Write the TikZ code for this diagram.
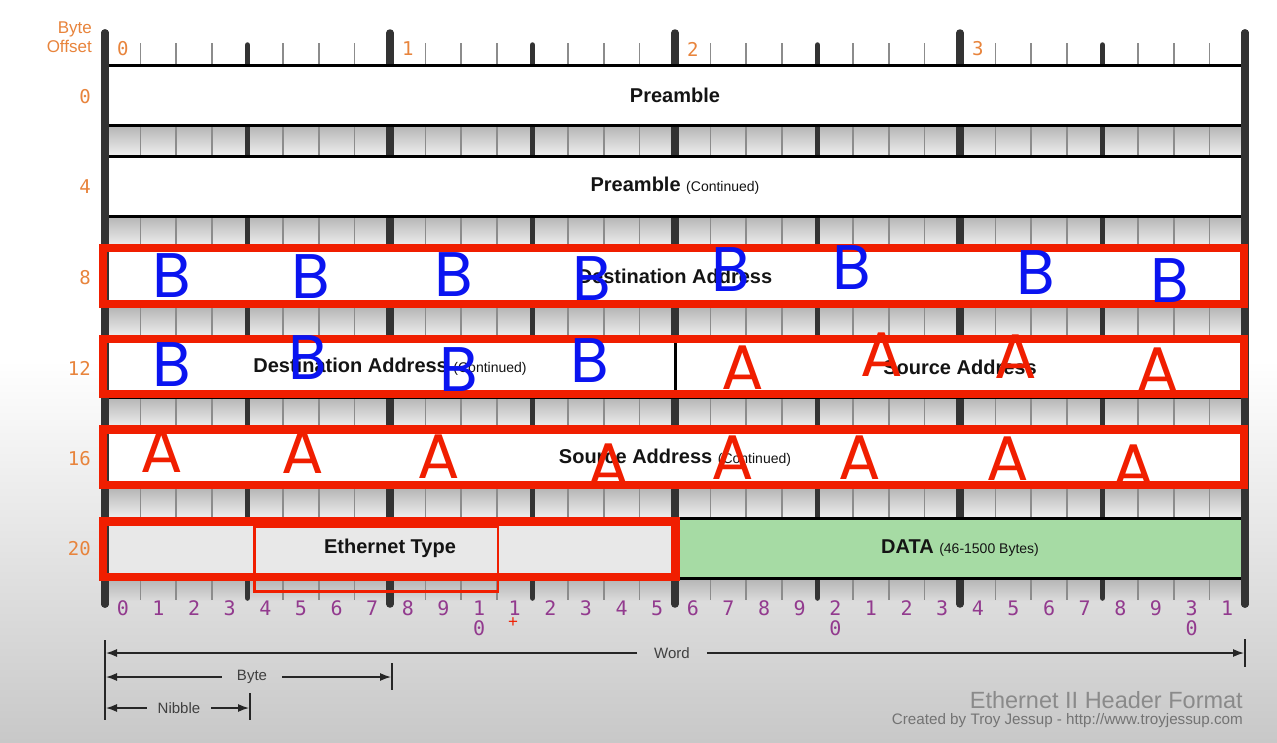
\documentclass[tikz,border=0pt]{standalone}
\usepackage{fontspec}
\setmainfont{Liberation Sans}
\newfontfamily\monof{DejaVu Sans Mono}
\newfontfamily\handf{Poppins}
\usetikzlibrary{arrows.meta}
\definecolor{orng}{HTML}{E8843C}
\definecolor{purp}{HTML}{923A8E}
\definecolor{dataG}{HTML}{A6DBA4}
\definecolor{lgray}{HTML}{E8E8E8}
\definecolor{annred}{HTML}{F01E00}
\definecolor{annblue}{HTML}{0A14F0}
\definecolor{barc}{HTML}{333333}
\definecolor{tickc}{HTML}{8C8C8C}
\definecolor{stripT}{HTML}{B4B4B4}
\definecolor{stripB}{HTML}{F0F0F0}
\definecolor{stripL}{HTML}{DADADA}
\definecolor{bgB}{HTML}{C8C8C8}
\definecolor{creditc}{HTML}{8A8A8A}
\tikzset{
  rowbox/.style={draw=black, line width=3pt, fill=white, inner sep=0pt, minimum height=60pt,
    font=\bfseries\fontsize{20}{24}\selectfont, text=black!92},
  bytebar/.style={line width=7.5pt, draw=barc, line cap=round},
  nibbar/.style={line width=5.5pt, draw=barc, line cap=round},
  bittick/.style={line width=1.6pt, draw=tickc},
  offlbl/.style={text=orng, font=\monof\fontsize{19}{22}\selectfont, inner sep=0pt},
  bitnum/.style={text=purp, font=\monof\fontsize{20}{22}\selectfont, inner sep=0pt},
  dimln/.style={line width=1.3pt, draw=black!85},
  dimarrow/.style={dimln, -{Latex[length=11pt,width=8pt]}},
  dimlbl/.style={font=\fontsize{15}{18}\selectfont, text=black!75, inner xsep=15pt, inner ysep=0pt},
  annbox/.style={draw=annred, line width=8.5pt},
  annthin/.style={draw=annred, line width=2.5pt},
  handB/.style={text=annblue, font=\handf\fontsize{63}{63}\selectfont, inner sep=0pt},
  handA/.style={text=annred, font=\handf\fontsize{63}{63}\selectfont, inner sep=0pt},
  credit/.style={text=creditc, inner sep=0pt, anchor=east},
}
\newcommand{\cont}[1]{{\mdseries\fontsize{14}{16}\selectfont #1}}
\begin{document}
\begin{tikzpicture}[x=1pt,y=-1pt]
\useasboundingbox (0,0) rectangle (1277,742);
% background
\fill[white] (0,0) rectangle (1277,742);
\shade[top color=white, bottom color=bgB] (0,360) rectangle (1277,742);
% shaded strips between rows
\foreach \k in {0,...,4}{
  \shade[top color=stripT, bottom color=stripB] (105,{125.5+90.5*\k}) rectangle (1245,{156+90.5*\k});
}
\shade[top color=stripT, bottom color=stripL] (105,578) rectangle (1245,600);
% bit ticks
\foreach \i in {1,...,31}{
  \draw[bittick] ({105+35.625*\i},43) -- ({105+35.625*\i},600);
}
% nibble bars
\foreach \i in {4,12,20,28}{
  \draw[nibbar] ({105+35.625*\i},45) -- ({105+35.625*\i},598);
}
% byte bars
\foreach \i in {0,8,16,24,32}{
  \draw[bytebar] ({105+35.625*\i},33) -- ({105+35.625*\i},604);
}
% rows
\node[rowbox, minimum width=1140pt] (r0) at (675,95.5) {Preamble};
\node[rowbox, minimum width=1140pt] (r4) at (675,186) {Preamble \cont{(Continued)}};
\node[rowbox, minimum width=1140pt] (r8) at (675,276.5) {Destination Address};
\node[rowbox, minimum width=570pt] (r12a) at (390,367) {Destination Address \cont{(Continued)}};
\node[rowbox, minimum width=570pt] (r12b) at (960,367) {Source Address};
\node[rowbox, minimum width=1140pt] (r16) at (675,457.5) {Source Address \cont{(Continued)}};
\node[rowbox, minimum width=570pt, fill=lgray] (r20a) at (390,548.5) {Ethernet Type};
\node[rowbox, minimum width=570pt, fill=dataG] (r20b) at (960,548.5) {DATA \cont{(46-1500 Bytes)}};
% outer bars over the boxes
\foreach \i in {0,32}{
  \draw[bytebar] ({105+35.625*\i},33) -- ({105+35.625*\i},604);
}
% top byte labels
\foreach \t [count=\j from 0] in {0,1,2,3}{
  \node[offlbl] (top\j) at ({122.8+285*\j},49) {\t};
}
% byte offset header
\node[text=orng, font=\fontsize{17}{19}\selectfont, align=right, anchor=east, inner sep=0pt] (hdr) at (92,37) {Byte\\Offset};
% row offset labels
\foreach \t [count=\j from 0] in {0,4,8,12,16,20}{
  \node[offlbl, anchor=east] (off\j) at (91,{96.5+90.5*\j}) {\t};
}
% bottom bit numbers
\foreach \d [count=\i from 0] in {0,1,2,3,4,5,6,7,8,9,1,1,2,3,4,5,6,7,8,9,2,1,2,3,4,5,6,7,8,9,3,1}{
  \node[bitnum] (b\i) at ({122.8+35.625*\i},608) {\d};
}
\node[bitnum] (b10z) at ({122.8+35.625*10},628) {0};
\node[bitnum] (b20z) at ({122.8+35.625*20},628) {0};
\node[bitnum] (b30z) at ({122.8+35.625*30},628) {0};
\node[text=annred, font=\fontsize{17}{17}\selectfont, inner sep=0pt] (cursor) at (513,623) {+};
% dimension lines
\draw[dimln] (105,640) -- (105,720);
\draw[dimln] (1245,639) -- (1245,667);
\draw[dimln] (392,663) -- (392,690);
\draw[dimln] (250,693) -- (250,720);
\coordinate (wL) at (106,653);
\coordinate (wR) at (1244,653);
\coordinate (bL) at (106,677);
\coordinate (bR) at (391,677);
\coordinate (nL) at (106,708);
\coordinate (nR) at (249,708);
\node[dimlbl, inner xsep=17pt] (word) at (672,653) {Word};
\node[dimlbl] (byte) at (252,677) {Byte};
\node[dimlbl, inner xsep=11pt] (nib) at (179,708) {Nibble};
\draw[dimarrow] (word.west) -- (wL);
\draw[dimarrow] (word.east) -- (wR);
\draw[dimarrow] (byte.west) -- (bL);
\draw[dimarrow] (byte.east) -- (bR);
\draw[dimarrow] (nib.west) -- (nL);
\draw[dimarrow] (nib.east) -- (nR);
% credits
\node[credit, font=\fontsize{23.5}{26}\selectfont] (title) at (1243,700) {Ethernet II Header Format};
\node[credit, font=\fontsize{15.2}{17}\selectfont, text=black!55] (by) at (1243,721) {Created by Troy Jessup - http://www.troyjessup.com};
% red annotation boxes
\draw[annbox] (103,248) rectangle (1244,304);
\draw[annbox] (103,339) rectangle (1244,394);
\draw[annbox] (103,429.5) rectangle (1244,485);
\draw[annbox] (103,521.5) rectangle (675.5,577);
\draw[annthin] (254.5,527) rectangle (498,591.5);
% hand-written letters
\foreach \x/\y [count=\n] in {172/276,311/277,454/275,592/279,731/270,852/268,1036/273,1170/281,172/365,308/358,459/370,590/361}{
  \node[handB] (hb\n) at (\x,\y) {B};
}
\foreach \x/\y [count=\n] in {743/368,882/355,1016/357,1158/370,162/451,303/452,439/457,609/466,733/458,860/458,1008/459,1134/467}{
  \node[handA] (ha\n) at (\x,\y) {A};
}
\end{tikzpicture}
\end{document}
